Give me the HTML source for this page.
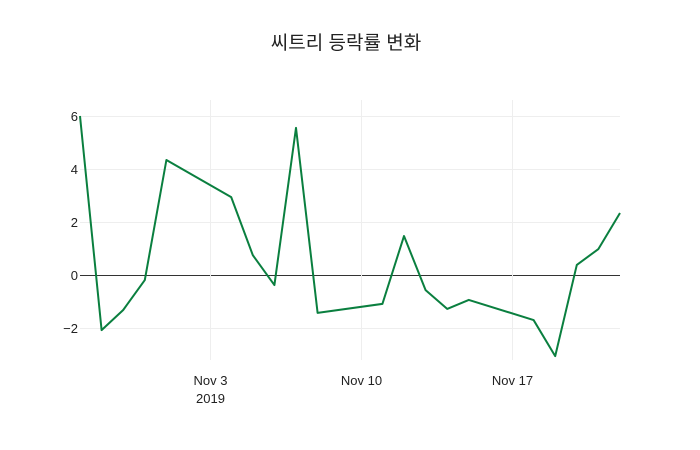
<!DOCTYPE html>
<html><head><meta charset="utf-8"><style>
body{margin:0;background:#fff;}
svg{display:block;font-family:"Liberation Sans","Noto Sans CJK KR",sans-serif;}
</style></head><body>
<svg id="chart" width="700" height="450">
<rect width="700" height="450" fill="#fff"/>
<text x="346" y="49" text-anchor="middle" font-size="19" fill="#222">씨트리 등락률 변화</text>
<g id="grid"></g><g id="ticks"></g><g id="series"></g>
</svg>
<script>
const dates=["2019-10-28","2019-10-29","2019-10-30","2019-10-31","2019-11-01","2019-11-04","2019-11-05","2019-11-06","2019-11-07","2019-11-08","2019-11-11","2019-11-12","2019-11-13","2019-11-14","2019-11-15","2019-11-18","2019-11-19","2019-11-20","2019-11-21","2019-11-22"];
const values=[6.0,-2.08,-1.32,-0.19,4.34,2.94,0.75,-0.38,5.55,-1.43,-1.09,1.47,-0.57,-1.28,-0.94,-1.70,-3.06,0.38,0.98,2.34];
const yTicks=[-2,0,2,4,6];
const xTickDates=["2019-11-03","2019-11-10","2019-11-17"];
const xTickLabels=["Nov 3","Nov 10","Nov 17"];
const NS="http://www.w3.org/2000/svg";
const L=80,R=620,T=100,B=360;
const t0=Date.parse(dates[0]),t1=Date.parse(dates[dates.length-1]);
const xs=d=>L+(Date.parse(d)-t0)/(t1-t0)*(R-L);
const ys=v=>275-26.5*v;
function mk(tag,attrs,parent){const e=document.createElementNS(NS,tag);for(const k in attrs)e.setAttribute(k,attrs[k]);parent.appendChild(e);return e;}
const grid=document.getElementById('grid'),ticks=document.getElementById('ticks'),ser=document.getElementById('series');
yTicks.forEach(v=>{
 const yy=Math.round(ys(v))+0.5;
 const l=mk('line',{x1:L,x2:R,y1:yy,y2:yy,stroke:v===0?'#333':'#eee','stroke-width':1},grid);
 
 
 const t=mk('text',{x:L-2,y:ys(v)+5,'text-anchor':'end','font-size':13,fill:'#222'},ticks);
 t.textContent=v<0?'\u2212'+Math.abs(v):String(v);
 
 
});
xTickDates.forEach((d,i)=>{
 const x=Math.round(xs(d))+0.5;
 const l=mk('line',{x1:x,x2:x,y1:T,y2:B,stroke:'#eee','stroke-width':1},grid);
 
 
 const t=mk('text',{x:x,y:385,'text-anchor':'middle','font-size':13,fill:'#222'},ticks);
 t.textContent=xTickLabels[i];
 
 
 if(i===0){const y=mk('text',{x:x,y:403,'text-anchor':'middle','font-size':13,fill:'#222'},ticks);y.textContent='2019';
 
 }
});
const p=mk('polyline',{points:dates.map((d,i)=>xs(d)+','+ys(values[i])).join(' '),fill:'none',stroke:'#0a7f3f','stroke-width':2,'stroke-linejoin':'round'},ser);


</script>
</body></html>
